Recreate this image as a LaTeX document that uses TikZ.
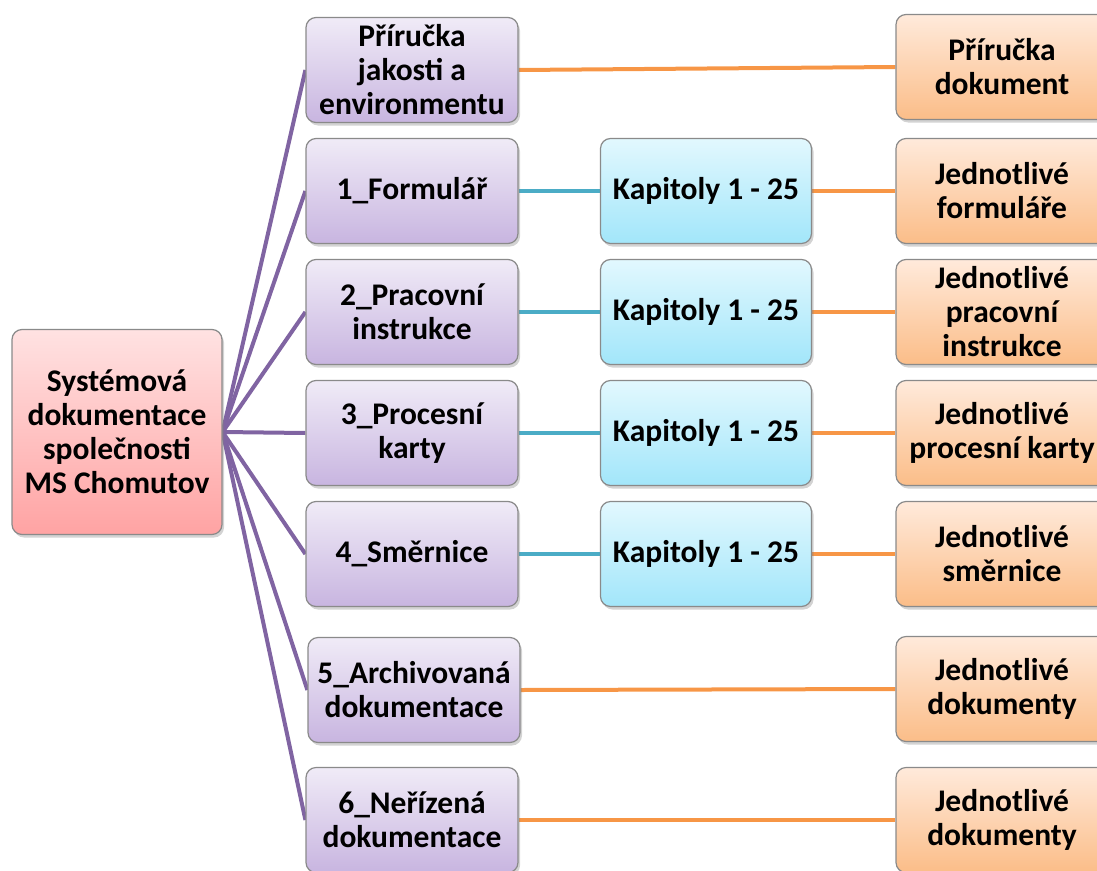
\documentclass[tikz,border=0pt]{standalone}
\usepackage{fontspec}
\setmainfont{Carlito}
\usetikzlibrary{shadows,backgrounds}
\definecolor{lnpurple}{HTML}{8064A2}
\definecolor{lnblue}{HTML}{4BACC6}
\definecolor{lnorange}{HTML}{F79646}
\definecolor{rtop}{HTML}{FFE2E2}
\definecolor{rbot}{HTML}{FFA3A3}
\definecolor{ptop}{HTML}{F0EBF7}
\definecolor{pbot}{HTML}{C8B5E0}
\definecolor{btop}{HTML}{E2F8FE}
\definecolor{bbot}{HTML}{A2E6FA}
\definecolor{otop}{HTML}{FFEADB}
\definecolor{obot}{HTML}{FBBD88}
\definecolor{bord}{HTML}{8A8A8A}
\tikzset{
  boxbase/.style={draw=bord, line width=1.2pt, rounded corners=10pt, align=center,
    font=\bfseries\fontsize{31.5}{34}\selectfont, inner sep=1pt,
    drop shadow={shadow xshift=2pt, shadow yshift=-3pt, opacity=0.35}},
  rootbox/.style={boxbase, minimum width=210pt, minimum height=205pt, top color=rtop, bottom color=rbot},
  purplebox/.style={boxbase, minimum width=212pt, minimum height=105pt, top color=ptop, bottom color=pbot},
  bluebox/.style={boxbase, minimum width=211pt, minimum height=105pt, top color=btop, bottom color=bbot},
  orangebox/.style={boxbase, minimum width=212pt, minimum height=105pt, top color=otop, bottom color=obot},
  pline/.style={draw=lnpurple, line width=4pt},
  bline/.style={draw=lnblue, line width=4pt},
  oline/.style={draw=lnorange, line width=4pt},
}
\begin{document}
\begin{tikzpicture}[x=1pt,y=-1pt]
\useasboundingbox (0,0) rectangle (1097,870);
\node[rootbox] (root) at (117,432) {Systémová\\dokumentace\\společnosti\\MS Chomutov};
\node[purplebox] (p0) at (412,70) {Příručka\\jakosti a\\environmentu};
\node[purplebox] (p1) at (412,191) {1\_Formulář};
\node[purplebox] (p2) at (412,312) {2\_Pracovní\\instrukce};
\node[purplebox] (p3) at (412,433) {3\_Procesní\\karty};
\node[purplebox] (p4) at (412,554) {4\_Směrnice};
\node[purplebox] (p5) at (414,690) {5\_Archivovaná\\dokumentace};
\node[purplebox] (p6) at (412,820) {6\_Neřízená\\dokumentace};
\node[bluebox] (k1) at (706,191) {Kapitoly 1 - 25};
\node[bluebox] (k2) at (706,312) {Kapitoly 1 - 25};
\node[bluebox] (k3) at (706,433) {Kapitoly 1 - 25};
\node[bluebox] (k4) at (706,554) {Kapitoly 1 - 25};
\node[orangebox] (o0) at (1002,67) {Příručka\\dokument};
\node[orangebox] (o1) at (1002,191) {Jednotlivé\\formuláře};
\node[orangebox] (o2) at (1002,312) {Jednotlivé\\pracovní\\instrukce};
\node[orangebox] (o3) at (1002,433) {Jednotlivé\\procesní karty};
\node[orangebox] (o4) at (1002,554) {Jednotlivé\\směrnice};
\node[orangebox] (o5) at (1002,689) {Jednotlivé\\dokumenty};
\node[orangebox] (o6) at (1002,820) {Jednotlivé\\dokumenty};
\begin{scope}[on background layer]
\foreach \p in {p0,p1,p2,p3,p4,p5,p6} {\draw[pline] (root.east) -- (\p.west);}
\foreach \i in {1,2,3,4} {\draw[bline] (p\i.east) -- (k\i.west); \draw[oline] (k\i.east) -- (o\i.west);}
\draw[oline] (p0.east) -- (o0.west);
\draw[oline] (p5.east) -- (o5.west);
\draw[oline] (p6.east) -- (o6.west);
\end{scope}
\end{tikzpicture}
\end{document}
